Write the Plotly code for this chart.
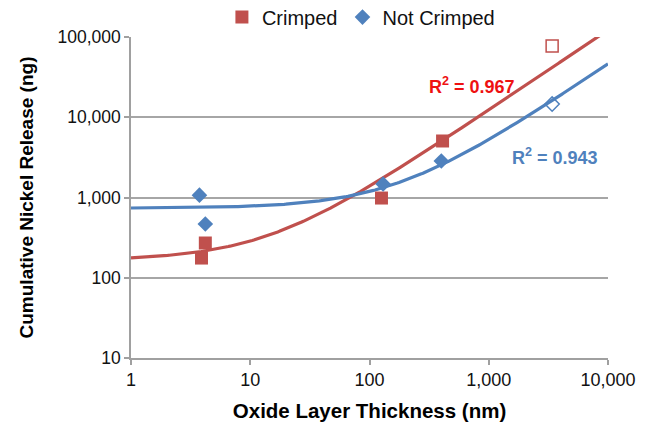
import numpy as np
import plotly.graph_objects as go

# ---- data ----
crimped_x = [3.9, 4.2, 126, 410]
crimped_y = [176, 271, 985, 5060]
crimped_open_x = [3400]
crimped_open_y = [77300]

not_crimped_x = [3.75, 4.2, 130, 400]
not_crimped_y = [1070, 468, 1470, 2850]
not_crimped_open_x = [3400]
not_crimped_open_y = [14600]

# linear trendlines (y = a + b*x)
crimped_fit_a, crimped_fit_b = 165.0, 12.2
not_crimped_fit_a, not_crimped_fit_b = 735.0, 4.54
crimped_r2 = "0.967"
not_crimped_r2 = "0.943"

x_tick_vals = [1, 10, 100, 1000, 10000]
x_tick_text = ["1", "10", "100", "1,000", "10,000"]
y_tick_vals = [10, 100, 1000, 10000, 100000]
y_tick_text = ["10", "100", "1,000", "10,000", "100,000"]

RED = "#c0504d"
BLUE = "#4f81bd"
FONT = "Liberation Sans, Arial, sans-serif"

xs = np.logspace(0, 4, 300)

fig = go.Figure()
fig.add_trace(go.Scatter(x=xs, y=crimped_fit_a + crimped_fit_b * xs, mode="lines",
                         line=dict(color=RED, width=3.2), showlegend=False, hoverinfo="skip"))
fig.add_trace(go.Scatter(x=xs, y=not_crimped_fit_a + not_crimped_fit_b * xs, mode="lines",
                         line=dict(color=BLUE, width=3.2), showlegend=False, hoverinfo="skip"))
fig.add_trace(go.Scatter(x=crimped_x, y=crimped_y, mode="markers", name="Crimped",
                         marker=dict(symbol="square", size=13, color=RED)))
fig.add_trace(go.Scatter(x=not_crimped_x, y=not_crimped_y, mode="markers", name="Not Crimped",
                         marker=dict(symbol="diamond", size=12, color=BLUE)))
fig.add_trace(go.Scatter(x=crimped_open_x, y=crimped_open_y, mode="markers", showlegend=False,
                         marker=dict(symbol="square-open", size=12, color=RED, line=dict(width=1.5))))
fig.add_trace(go.Scatter(x=not_crimped_open_x, y=not_crimped_open_y, mode="markers", showlegend=False,
                         marker=dict(symbol="diamond-open", size=11, color=BLUE, line=dict(width=1.5))))

fig.add_annotation(x=np.log10(724), y=np.log10(25200), text="<b>R<sup>2</sup> = " + crimped_r2 + "</b>",
                   showarrow=False, font=dict(family=FONT, size=18, color="#ee1111"),
                   xref="x", yref="y")
fig.add_annotation(x=np.log10(3594), y=np.log10(3290), text="<b>R<sup>2</sup> = " + not_crimped_r2 + "</b>",
                   showarrow=False, font=dict(family=FONT, size=18, color=BLUE),
                   xref="x", yref="y")

axis_common = dict(
    type="log", showline=True, linecolor="#a0a0a0", linewidth=1.5,
    ticks="outside", ticklen=5, tickcolor="#a0a0a0", tickwidth=1.5,
    zeroline=False,
)
fig.update_xaxes(**axis_common, range=[0, 4], tickvals=x_tick_vals, ticktext=x_tick_text,
                 showgrid=False, tickfont=dict(family=FONT, size=18, color="#111111"),
                 title=dict(text="<b>Oxide Layer Thickness (nm)</b>", standoff=14,
                            font=dict(family=FONT, size=20.5, color="#000000")))
fig.update_yaxes(**axis_common, range=[1, 5], tickvals=y_tick_vals, ticktext=y_tick_text,
                 showgrid=True, gridcolor="#a6a6a6", gridwidth=1.5,
                 tickfont=dict(family=FONT, size=17.5, color="#111111"),
                 title=dict(text="<b>Cumulative Nickel Release (ng)</b>", standoff=19,
                            font=dict(family=FONT, size=19, color="#000000")))

fig.update_layout(
    width=646, height=427,
    margin=dict(l=131, r=38, t=37, b=69, autoexpand=False),
    paper_bgcolor="white", plot_bgcolor="white",
    font=dict(family=FONT),
    legend=dict(orientation="h", x=0.482, xanchor="center", y=1.062, yanchor="middle",
                font=dict(family=FONT, size=20, color="#111111"),
                itemwidth=30, tracegroupgap=0, bgcolor="rgba(0,0,0,0)"),
)

fig.write_html("out.html", config={"displayModeBar": False},
               post_script="document.body.style.margin='0px';")
